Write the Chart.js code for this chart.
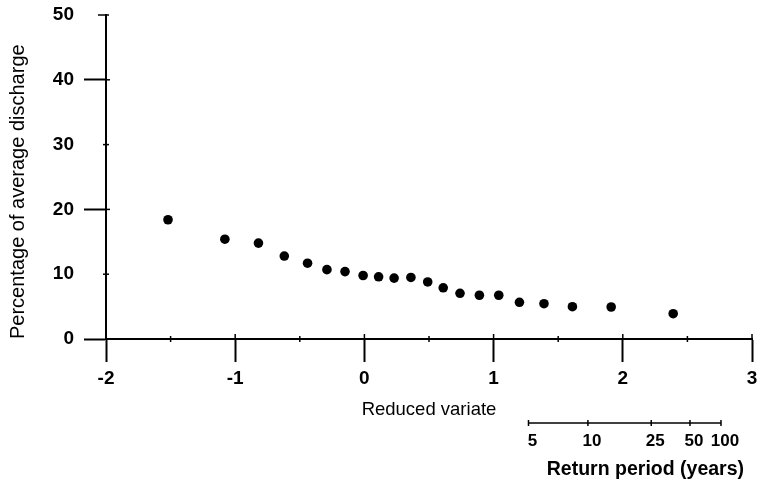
<!DOCTYPE html>
<html>
<head>
<meta charset="utf-8">
<script src="https://cdn.jsdelivr.net/npm/chart.js@4.4.0/dist/chart.umd.min.js"></script>
<style>
html, body { margin: 0; padding: 0; background: #fff; overflow: hidden; }
#wrap { width: 760px; height: 485px; }
</style>
</head>
<body>
<div id="wrap"><canvas id="grafik" width="760" height="485"></canvas></div>
<script>
// Reduced variate (x) and percentage of average discharge (y)
const reducedVariate = [-1.52, -1.08, -0.82, -0.62, -0.44, -0.29, -0.15, -0.01, 0.11, 0.23, 0.36,
    0.49, 0.61, 0.74, 0.89, 1.04, 1.20, 1.39, 1.61, 1.91, 2.39];
const percentDischarge = [18.4, 15.4, 14.8, 12.8, 11.7, 10.7, 10.4, 9.8, 9.6, 9.4, 9.5,
    8.8, 7.9, 7.05, 6.75, 6.75, 5.66, 5.45, 4.98, 4.94, 3.9];

// Second scale under the axis: return period labels and where they sit on the reduced variate axis
const returnPeriods = ['5', '10', '25', '50', '100'];
const returnPeriodAt = [1.27, 1.73, 2.22, 2.52, 2.76];

Chart.defaults.font.family = '"Liberation Sans", Arial, sans-serif';
Chart.defaults.color = '#000';

function garis(ctx, x1, y1, x2, y2) {
    ctx.beginPath();
    ctx.moveTo(x1, y1);
    ctx.lineTo(x2, y2);
    ctx.stroke();
}

// small ticks and the return period scale
const skalaTambahan = {
    id: 'skalaTambahan',
    afterDraw(chart) {
        const ctx = chart.ctx;
        const x = chart.scales.x;
        const y = chart.scales.y;
        ctx.save();
        ctx.strokeStyle = '#000';
        ctx.lineWidth = 1.5;

        // half-unit ticks on the x axis
        for (let v = -1.5; v < 3; v += 1) {
            const px = x.getPixelForValue(v);
            garis(ctx, px, y.bottom - 3, px, y.bottom + 3);
        }
        // major x ticks poke a bit above the axis
        for (let v = -1; v <= 3; v++) {
            const px = x.getPixelForValue(v);
            garis(ctx, px, y.bottom - 5, px, y.bottom);
        }
        // y ticks
        [10, 30].forEach(v => {
            const py = y.getPixelForValue(v);
            garis(ctx, x.left - 3, py, x.left + 3, py);
        });
        [20, 40].forEach(v => {
            const py = y.getPixelForValue(v);
            garis(ctx, x.left, py, x.left + 4, py);
        });
        const top = y.getPixelForValue(50);
        garis(ctx, x.left - 8, top, x.left + 3, top);

        // return period scale
        const rY = 423;
        garis(ctx, x.getPixelForValue(returnPeriodAt[0]), rY,
              x.getPixelForValue(returnPeriodAt[returnPeriodAt.length - 1]), rY);
        ctx.fillStyle = '#000';
        ctx.font = 'bold 17px "Liberation Sans", Arial, sans-serif';
        ctx.textAlign = 'center';
        ctx.textBaseline = 'middle';
        returnPeriods.forEach((lbl, i) => {
            const px = x.getPixelForValue(returnPeriodAt[i]);
            garis(ctx, px, rY - 3, px, rY + 3);
            ctx.fillText(lbl, px + 4, rY + 18);
        });
        ctx.font = 'bold 19.5px "Liberation Sans", Arial, sans-serif';
        ctx.textAlign = 'right';
        ctx.fillText('Return period (years)', x.right - 8, 470);
        ctx.restore();
    }
};

const ctx = document.getElementById('grafik').getContext('2d');
const grafik = new Chart(ctx, {
    type: 'scatter',
    data: {
        datasets: [{
            data: reducedVariate.map((v, i) => ({ x: v, y: percentDischarge[i] })),
            backgroundColor: '#000',
            borderWidth: 0,
            pointRadius: 4.8
        }]
    },
    options: {
        responsive: false,
        animation: false,
        devicePixelRatio: 1,
        layout: { padding: { top: 15, right: 8, left: 0, bottom: 0 } },
        plugins: {
            legend: { display: false },
            tooltip: { enabled: false }
        },
        scales: {
            x: {
                type: 'linear',
                min: -2,
                max: 3,
                ticks: { stepSize: 1, padding: 5, font: { size: 19, weight: 'bold' } },
                grid: { drawOnChartArea: false, color: '#000', tickLength: 23, tickWidth: 2 },
                border: { color: '#000', width: 2 },
                title: {
                    display: true,
                    text: 'Reduced variate',
                    font: { size: 18.5 },
                    padding: { top: 0, bottom: 64 }
                },
                afterFit(s) {
                    s.height = 146;
                    s.paddingLeft = 0;
                    s.paddingRight = 0;
                }
            },
            y: {
                min: 0,
                max: 50,
                ticks: { stepSize: 10, padding: 10, font: { size: 19, weight: 'bold' } },
                grid: {
                    drawOnChartArea: false,
                    tickLength: 22,
                    tickWidth: 2,
                    tickColor: c => (c.tick && c.tick.value % 20 === 0 ? '#000' : 'rgba(0,0,0,0)')
                },
                border: { color: '#000', width: 2 },
                title: {
                    display: true,
                    text: 'Percentage of average discharge',
                    align: 'start',
                    font: { size: 20 },
                    padding: { top: 6, bottom: 0 }
                },
                afterFit(s) {
                    s.width = 106;
                    s.paddingTop = 0;
                    s.paddingBottom = 0;
                }
            }
        }
    },
    plugins: [skalaTambahan]
});
</script>
</body>
</html>
